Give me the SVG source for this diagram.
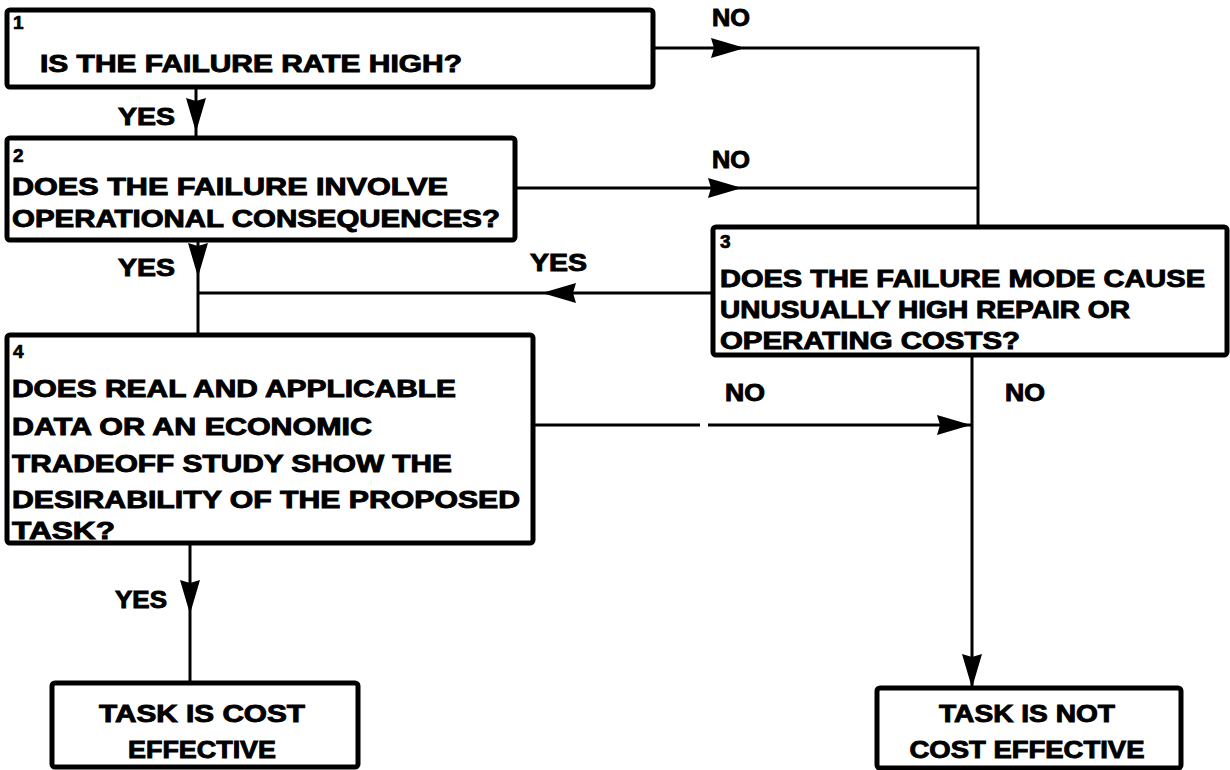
<svg xmlns="http://www.w3.org/2000/svg" width="1230" height="770" viewBox="0 0 1230 770">
<style>
.box{fill:#fff;stroke:#000;stroke-width:5;stroke-linejoin:round}
.ln{fill:none;stroke:#000;stroke-width:3}
.t{font-family:"Liberation Sans",Arial,sans-serif;font-weight:bold;font-size:23px;fill:#000;stroke:#000;stroke-width:0.9}
.n{font-family:"Liberation Sans",Arial,sans-serif;font-weight:bold;font-size:19px;fill:#000;stroke:#000;stroke-width:0.7}
.c{text-anchor:middle}
</style>
<defs>
<path id="ah" d="M0,0 L-34,-10 L-31,0 L-34,10 Z" fill="#000"/>
</defs>
<rect width="1230" height="770" fill="#fff"/>
<g id="connectors">
<path class="ln" d="M196,88 V138"/>
<use href="#ah" transform="translate(196,132) rotate(90)"/>
<path class="ln" d="M653,48 H978 V227"/>
<use href="#ah" transform="translate(745,48)"/>
<path class="ln" d="M515,188 H978"/>
<use href="#ah" transform="translate(742,188)"/>
<path class="ln" d="M198,240 V335"/>
<use href="#ah" transform="translate(198,277) rotate(90)"/>
<path class="ln" d="M713,293 H198"/>
<use href="#ah" transform="translate(542,293) rotate(180)"/>
<path class="ln" d="M533,425 H700 M708,425 H972"/>
<use href="#ah" transform="translate(971,425)"/>
<path class="ln" d="M972,355 V688"/>
<use href="#ah" transform="translate(972,688) rotate(90)"/>
<path class="ln" d="M190,543 V683"/>
<use href="#ah" transform="translate(190,614) rotate(90)"/>
<text class="t" x="118" y="125" textLength="57" lengthAdjust="spacingAndGlyphs">YES</text>
<text class="t" x="712" y="26" textLength="38" lengthAdjust="spacingAndGlyphs">NO</text>
<text class="t" x="712" y="168" textLength="38" lengthAdjust="spacingAndGlyphs">NO</text>
<text class="t" x="118" y="276" textLength="57" lengthAdjust="spacingAndGlyphs">YES</text>
<text class="t" x="530" y="271" textLength="57" lengthAdjust="spacingAndGlyphs">YES</text>
<text class="t" x="725" y="401" textLength="40" lengthAdjust="spacingAndGlyphs">NO</text>
<text class="t" x="1005" y="401" textLength="40" lengthAdjust="spacingAndGlyphs">NO</text>
<text class="t" x="115" y="608" textLength="52" lengthAdjust="spacingAndGlyphs">YES</text>
</g>
<g id="node1">
<rect class="box" x="7" y="10" width="646" height="77" rx="3"/>
<text class="n" x="13" y="29">1</text>
<text class="t" x="40" y="72" textLength="422" lengthAdjust="spacingAndGlyphs">IS THE FAILURE RATE HIGH?</text>
</g>
<g id="node2">
<rect class="box" x="7" y="138" width="508" height="102" rx="3"/>
<text class="n" x="13" y="162">2</text>
<text class="t" x="12" y="195" textLength="436" lengthAdjust="spacingAndGlyphs">DOES THE FAILURE INVOLVE</text>
<text class="t" x="12" y="227" textLength="488" lengthAdjust="spacingAndGlyphs">OPERATIONAL CONSEQUENCES?</text>
</g>
<g id="node3">
<rect class="box" x="713" y="227" width="514" height="128" rx="3"/>
<text class="n" x="720" y="248">3</text>
<text class="t" x="720" y="287" textLength="485" lengthAdjust="spacingAndGlyphs">DOES THE FAILURE MODE CAUSE</text>
<text class="t" x="720" y="318" textLength="410" lengthAdjust="spacingAndGlyphs">UNUSUALLY HIGH REPAIR OR</text>
<text class="t" x="720" y="349" textLength="300" lengthAdjust="spacingAndGlyphs">OPERATING COSTS?</text>
</g>
<g id="node4">
<rect class="box" x="7" y="335" width="526" height="208" rx="3"/>
<text class="n" x="13" y="358">4</text>
<text class="t" x="12" y="397" textLength="444" lengthAdjust="spacingAndGlyphs">DOES REAL AND APPLICABLE</text>
<text class="t" x="12" y="435" textLength="360" lengthAdjust="spacingAndGlyphs">DATA OR AN ECONOMIC</text>
<text class="t" x="12" y="472" textLength="440" lengthAdjust="spacingAndGlyphs">TRADEOFF STUDY SHOW THE</text>
<text class="t" x="12" y="508" textLength="508" lengthAdjust="spacingAndGlyphs">DESIRABILITY OF THE PROPOSED</text>
<text class="t" x="12" y="539" textLength="103" lengthAdjust="spacingAndGlyphs">TASK?</text>
</g>
<g id="node5">
<rect class="box" x="52" y="683" width="306" height="84" rx="3"/>
<text class="t c" x="202" y="722" textLength="206" lengthAdjust="spacingAndGlyphs">TASK IS COST</text>
<text class="t c" x="202" y="758" textLength="148" lengthAdjust="spacingAndGlyphs">EFFECTIVE</text>
</g>
<g id="node6">
<rect class="box" x="877" y="688" width="304" height="80" rx="3"/>
<text class="t c" x="1027" y="722" textLength="176" lengthAdjust="spacingAndGlyphs">TASK IS NOT</text>
<text class="t c" x="1027" y="758" textLength="235" lengthAdjust="spacingAndGlyphs">COST EFFECTIVE</text>
</g>
</svg>
